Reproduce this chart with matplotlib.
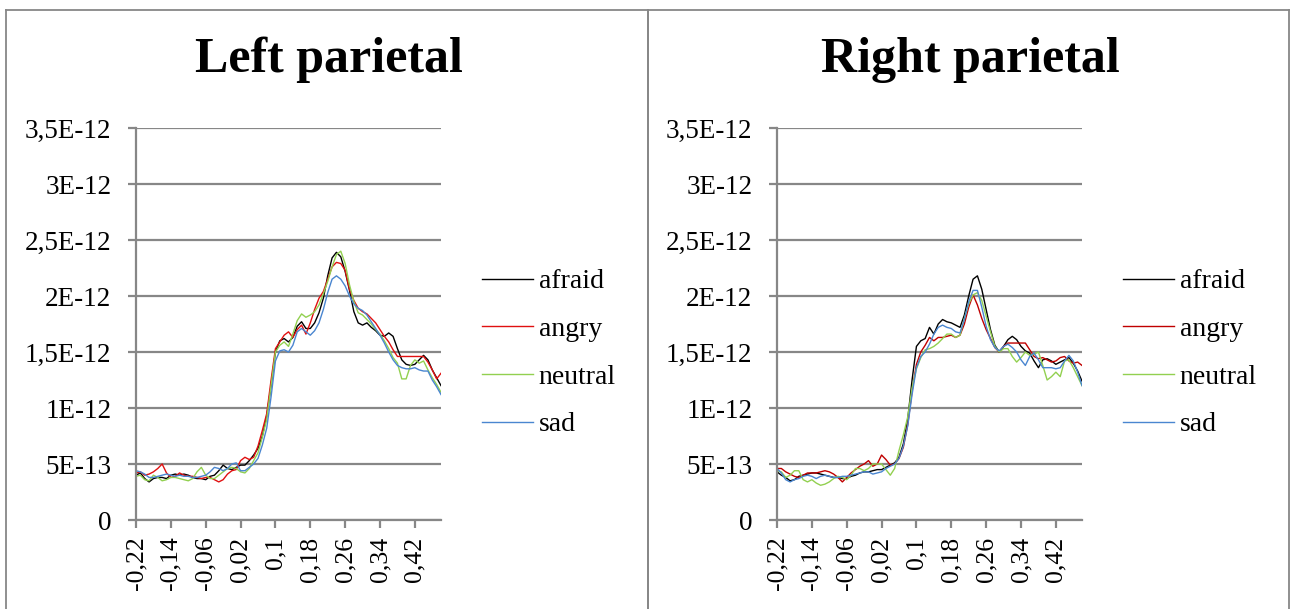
import matplotlib.pyplot as plt
from matplotlib.lines import Line2D
from matplotlib.ticker import FuncFormatter
import numpy as np

# time axis, seconds (category labels)
time = [round(-0.22 + 0.01 * i, 2) for i in range(71)]
tick_times = [-0.22, -0.14, -0.06, 0.02, 0.1, 0.18, 0.26, 0.34, 0.42]
y_ticks = [0, 5e-13, 1e-12, 1.5e-12, 2e-12, 2.5e-12, 3e-12, 3.5e-12]
y_labels = ['0', '5E-13', '1E-12', '1,5E-12', '2E-12', '2,5E-12', '3E-12', '3,5E-12']
conditions = ['afraid', 'angry', 'neutral', 'sad']

# values in units of 1E-13
left_afraid = [4.0, 4.2, 3.7, 3.4, 3.7, 3.8, 3.8, 3.7, 4.0, 4.1, 4.0, 4.1, 4.0, 3.8, 3.7, 3.7,
               3.6, 3.9, 4.0, 4.4, 4.9, 4.6, 4.5, 4.7, 4.9, 4.9, 5.3, 5.8, 6.4, 7.5, 9.3, 12.0,
               15.0, 16.0, 16.2, 15.9, 16.3, 17.3, 17.7, 17.1, 17.1, 17.6, 18.5, 19.8, 21.8, 23.4,
               23.9, 23.5, 22.2, 20.5, 18.6, 17.6, 17.4, 17.6, 17.2, 16.9, 16.5, 16.4, 16.7, 16.4,
               15.3, 14.3, 13.9, 13.8, 13.9, 14.3, 14.7, 14.3, 13.4, 12.7, 12.0]
left_angry = [4.2, 4.3, 4.0, 4.1, 4.3, 4.6, 5.0, 4.2, 3.8, 3.9, 4.2, 4.0, 3.9, 3.9, 3.8, 3.7,
              3.8, 3.8, 3.6, 3.4, 3.6, 4.1, 4.4, 4.5, 5.3, 5.6, 5.4, 5.6, 6.6, 8.0, 9.5, 12.5,
              15.3, 15.9, 16.5, 16.8, 16.3, 17.0, 17.4, 16.6, 17.6, 18.8, 19.8, 20.4, 21.5, 22.6,
              23.0, 22.9, 22.3, 20.6, 19.6, 18.9, 18.6, 18.4, 18.0, 17.6, 17.0, 16.4, 15.9, 15.2,
              14.6, 14.6, 14.6, 14.6, 14.6, 14.6, 14.6, 14.1, 13.4, 12.6, 13.1]
left_neutral = [3.9, 4.0, 3.6, 3.5, 4.0, 3.8, 3.5, 3.6, 3.8, 3.8, 3.7, 3.6, 3.5, 3.7, 4.3, 4.7,
                4.0, 3.7, 3.7, 4.0, 4.3, 4.6, 4.7, 4.6, 4.3, 4.2, 4.6, 5.3, 6.0, 7.4, 9.0, 12.0,
                15.0, 15.6, 15.9, 15.5, 16.6, 17.8, 18.4, 18.1, 18.3, 18.6, 19.2, 20.2, 21.3, 22.6,
                23.7, 24.0, 22.9, 21.0, 19.5, 18.5, 18.3, 17.9, 17.5, 17.0, 16.6, 16.0, 15.3, 14.5,
                14.0, 12.6, 12.6, 13.8, 14.3, 14.0, 14.2, 13.4, 12.7, 12.1, 11.4]
left_sad = [4.4, 4.3, 4.1, 3.8, 3.8, 3.9, 4.0, 4.1, 4.0, 3.9, 4.0, 3.9, 3.9, 3.8, 3.8, 3.9,
            4.0, 4.3, 4.7, 4.6, 4.4, 4.6, 5.0, 5.1, 4.4, 4.4, 4.7, 5.0, 5.5, 6.7, 8.2, 11.0,
            14.2, 15.1, 15.2, 15.0, 15.6, 16.8, 17.1, 16.8, 16.5, 16.9, 17.6, 18.8, 20.3, 21.5,
            21.8, 21.5, 20.9, 20.0, 19.3, 18.9, 18.7, 18.3, 17.7, 17.1, 16.5, 15.8, 15.0, 14.3,
            13.8, 13.6, 13.5, 13.5, 13.6, 13.4, 13.3, 13.3, 12.5, 11.9, 11.2]

right_afraid = [4.3, 4.0, 3.8, 3.5, 3.6, 3.9, 4.0, 4.1, 4.2, 4.2, 4.1, 4.0, 3.9, 3.8, 3.8, 3.7,
                3.7, 3.9, 4.0, 4.2, 4.3, 4.3, 4.4, 4.5, 4.5, 4.7, 4.9, 5.1, 5.6, 6.8, 9.0, 12.5,
                15.5, 16.0, 16.2, 17.2, 16.6, 17.5, 17.9, 17.7, 17.6, 17.4, 17.2, 18.3, 20.0, 21.5,
                21.8, 20.6, 18.8, 17.0, 15.6, 15.0, 15.5, 16.1, 16.4, 16.1, 15.5, 15.1, 14.9, 14.2,
                13.6, 14.3, 14.4, 14.2, 13.9, 14.1, 14.3, 14.5, 14.0, 13.3, 12.4]
right_angry = [4.6, 4.6, 4.3, 4.1, 3.9, 3.8, 4.0, 4.2, 4.2, 4.2, 4.3, 4.4, 4.3, 4.1, 3.8, 3.4,
               3.8, 4.2, 4.5, 4.8, 5.0, 5.3, 4.8, 5.0, 5.8, 5.4, 4.9, 5.0, 5.5, 6.5, 8.5, 11.5,
               13.9, 15.0, 15.6, 16.3, 16.0, 16.3, 16.3, 16.4, 16.5, 16.3, 16.5, 17.5, 19.0, 20.1,
               19.2, 18.0, 17.0, 16.2, 15.4, 15.0, 15.5, 15.8, 15.8, 15.8, 15.8, 15.8, 15.2, 14.6,
               14.4, 14.5, 14.3, 14.1, 14.2, 14.5, 14.6, 14.2, 14.0, 14.1, 13.8]
right_neutral = [4.4, 4.3, 3.8, 4.0, 4.4, 4.4, 3.6, 3.4, 3.6, 3.3, 3.1, 3.2, 3.4, 3.7, 3.9, 3.8,
                 3.6, 4.0, 4.6, 4.6, 4.4, 4.6, 5.0, 5.0, 5.0, 4.5, 4.0, 4.6, 6.2, 7.6, 9.2, 11.8,
                 13.5, 14.5, 15.2, 15.3, 15.5, 15.8, 16.2, 16.6, 16.6, 16.3, 16.5, 18.0, 19.3, 20.1,
                 20.3, 19.6, 18.2, 16.8, 15.5, 15.0, 15.3, 15.3, 14.6, 14.1, 14.5, 15.0, 14.7, 14.8,
                 15.0, 13.8, 12.5, 12.8, 13.2, 12.8, 14.2, 14.3, 13.6, 12.8, 12.0]
right_sad = [4.6, 4.2, 3.6, 3.4, 3.6, 3.7, 3.9, 4.0, 3.9, 3.7, 3.9, 4.0, 3.9, 3.8, 3.8, 3.9,
             3.9, 4.0, 4.1, 4.2, 4.3, 4.3, 4.1, 4.2, 4.3, 4.6, 4.8, 5.0, 5.5, 6.6, 8.4, 11.2,
             13.6, 14.6, 15.0, 15.7, 16.6, 17.2, 17.4, 17.2, 17.1, 16.8, 16.7, 17.9, 19.5, 20.5,
             20.5, 19.0, 17.3, 16.1, 15.4, 15.1, 15.5, 15.7, 15.4, 15.0, 14.3, 13.8, 14.6, 14.9,
             14.3, 13.6, 13.6, 13.6, 13.5, 13.6, 14.2, 14.7, 14.2, 13.2, 12.0]

left_colors = ['#000000', '#e01010', '#92d050', '#4a86d0']
right_colors = ['#000000', '#c00000', '#92d050', '#4a86d0']
grey = '#878787'
serif = ['Liberation Serif', 'DejaVu Serif']

fig = plt.figure(figsize=(12.9, 6.09), dpi=100)

# chart borders
top = 1 - 9.5 / 609
for x0, x1 in [(6, 648), (648, 1289)]:
    for xx in (x0, x1):
        fig.add_artist(Line2D([xx / 1290, xx / 1290], [0, top], transform=fig.transFigure,
                              color=grey, lw=1.3))
    fig.add_artist(Line2D([x0 / 1290, x1 / 1290], [top, top], transform=fig.transFigure,
                          color=grey, lw=1.3))

panels = [
    ('Left parietal', 136, [left_afraid, left_angry, left_neutral, left_sad], left_colors),
    ('Right parietal', 777, [right_afraid, right_angry, right_neutral, right_sad], right_colors),
]

fmt = FuncFormatter(lambda v, p: ('%g' % v).replace('.', ','))

for title, left_px, series, colors in panels:
    ax = fig.add_axes([left_px / 1290, 1 - 520 / 609, 305 / 1290, 392 / 609])
    for name, vals, c in zip(conditions, series, colors):
        ax.plot(time, np.array(vals) * 1e-13, color=c, lw=1.0, label=name)
    ax.set_xlim(-0.22, 0.48)
    ax.set_ylim(0, 3.5e-12)
    ax.set_yticks(y_ticks)
    ax.set_yticklabels(y_labels, fontsize=19.5, family=serif)
    ax.set_xticks(tick_times)
    ax.xaxis.set_major_formatter(fmt)
    for lab in ax.get_xticklabels():
        lab.set_rotation(90)
        lab.set_fontsize(18.5)
        lab.set_family(serif)
    ax.grid(axis='y', color=grey, lw=1.6)
    ax.set_axisbelow(True)
    for s in ['top', 'right']:
        ax.spines[s].set_visible(False)
    for s in ['left', 'bottom']:
        ax.spines[s].set_color(grey)
        ax.spines[s].set_linewidth(1.6)
    ax.tick_params(axis='both', direction='out', length=5.8, width=1.6, color=grey)
    ax.tick_params(axis='y', pad=12)
    ax.tick_params(axis='x', pad=6)
    fig.text((left_px + 193) / 1290, 1 - 60 / 609, title, ha='center', va='center',
             fontsize=36, fontweight='bold', family=serif)
    ax.legend(loc='center left', bbox_to_anchor=(1.134, 0.426), frameon=False,
              prop={'family': serif, 'size': 20}, handlelength=1.83, handletextpad=0.22,
              labelspacing=0.8, borderpad=0, borderaxespad=0)

fig.savefig('out.png', dpi=100)
